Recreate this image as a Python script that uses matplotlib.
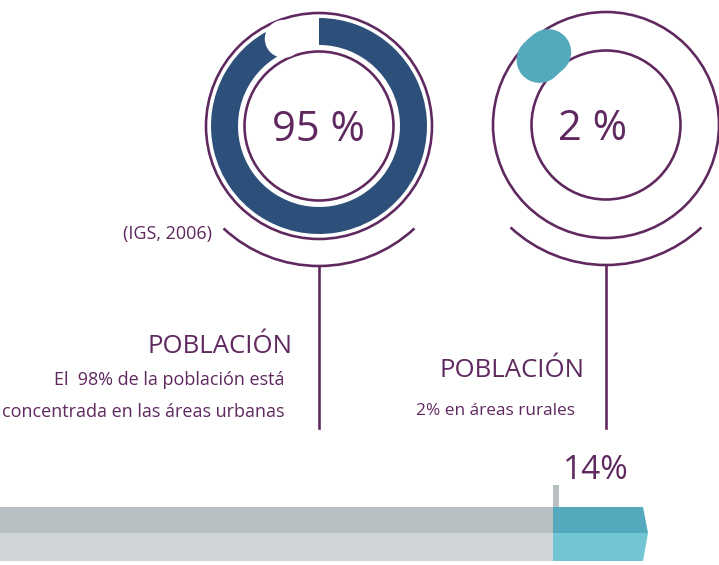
import numpy as np
import matplotlib
matplotlib.use("Agg")
import matplotlib.pyplot as plt
from matplotlib.patches import Circle, Wedge, Arc, Polygon, Rectangle

# chart content
donut_values = [95, 2]
donut_labels = ["95 %", "2 %"]
headings = ["POBLACIÓN", "POBLACIÓN"]
descriptions = ["El  98% de la población está\nconcentrada en las áreas urbanas",
                "2% en áreas rurales"]
source_note = "(IGS, 2006)"
bar_share = 14
bar_label = "14%"

PURPLE = "#5f285f"
NAVY = "#2c5079"
TEAL = "#54a9bd"
TEAL_LIGHT = "#72c6d4"
GRAY = "#b9c0c4"
GRAY_LIGHT = "#d0d5d8"

plt.rcParams['font.family'] = ['Open Sans', 'DejaVu Sans']

fig = plt.figure(figsize=(7.19, 5.65), dpi=100)
ax = fig.add_axes([0, 0, 1, 1])
ax.set_xlim(0, 719)
ax.set_ylim(565, 0)
ax.axis("off")

PX = 0.72  # points per pixel

centers = [(319, 126), (606, 125)]
label_x = [319, 593]
heading_right = [292, 585]
desc_right = [285, 575]
heading_base = [353, 377]
desc_base = [385, 415]
desc_size = [13, 12.4]

for i, (cx, cy) in enumerate(centers):
    # outer and inner purple rings
    ax.add_patch(Circle((cx, cy), 113, fill=False, ec=PURPLE, lw=2.6 * PX))
    ax.add_patch(Circle((cx, cy), 74.5, fill=False, ec=PURPLE, lw=2.6 * PX))

    val = donut_values[i]
    sweep = val * 3.6
    if val > 50:
        # big navy ring starting at the top, clockwise
        ax.add_patch(Wedge((cx, cy), 108, -90, -90 + sweep, width=27,
                           fc=NAVY, ec="none"))
        end = np.deg2rad(-90 + sweep - 4)
        ax.add_patch(Circle((cx + 94 * np.cos(end), cy + 94 * np.sin(end)), 19,
                            fc="white", ec="none", zorder=3))
    else:
        # small rounded marker
        mid = 228
        th = np.deg2rad(np.linspace(mid - sweep / 2, mid + sweep / 2, 20))
        ax.plot(cx + 93 * np.cos(th), cy + 93 * np.sin(th), color=TEAL,
                lw=46 * PX, solid_capstyle="round", zorder=1)

    ax.text(label_x[i], cy + 15, donut_labels[i], ha="center", va="baseline",
            fontsize=30, color=PURPLE, zorder=4)

    # lower arc and stem
    ax.add_patch(Arc((cx, cy), 280, 280, theta1=47, theta2=133,
                     ec=PURPLE, lw=2.6 * PX))
    ax.plot([cx, cx], [cy + 140, 428], color=PURPLE, lw=2.6 * PX)

    ax.text(heading_right[i], heading_base[i], headings[i], ha="right",
            va="baseline", fontsize=18.5, color=PURPLE)
    for j, line in enumerate(descriptions[i].split("\n")):
        ax.text(desc_right[i], desc_base[i] + 32 * j, line, ha="right",
                va="baseline", fontsize=desc_size[i], color=PURPLE)

ax.text(212, 239, source_note, ha="right", va="baseline", fontsize=13,
        color=PURPLE)

# bottom bar
bar_len = 643
split = bar_len * (100 - bar_share) / 100
top, mid, bot = 507, 533, 561
ax.add_patch(Rectangle((0, top), split, mid - top, fc=GRAY, ec="none"))
ax.add_patch(Rectangle((0, mid), split, bot - mid, fc=GRAY_LIGHT, ec="none"))
ax.add_patch(Polygon([(split, top), (bar_len, top), (bar_len + 5, mid), (split, mid)],
                     closed=True, fc=TEAL, ec="none"))
ax.add_patch(Polygon([(split, mid), (bar_len + 5, mid), (bar_len, bot), (split, bot)],
                     closed=True, fc=TEAL_LIGHT, ec="none"))
ax.add_patch(Rectangle((split, 485), 6, top - 485, fc=GRAY, ec="none"))
ax.text(split + 10, 479, bar_label, ha="left", va="baseline", fontsize=24,
        color=PURPLE)

fig.savefig("out.png", dpi=100)
